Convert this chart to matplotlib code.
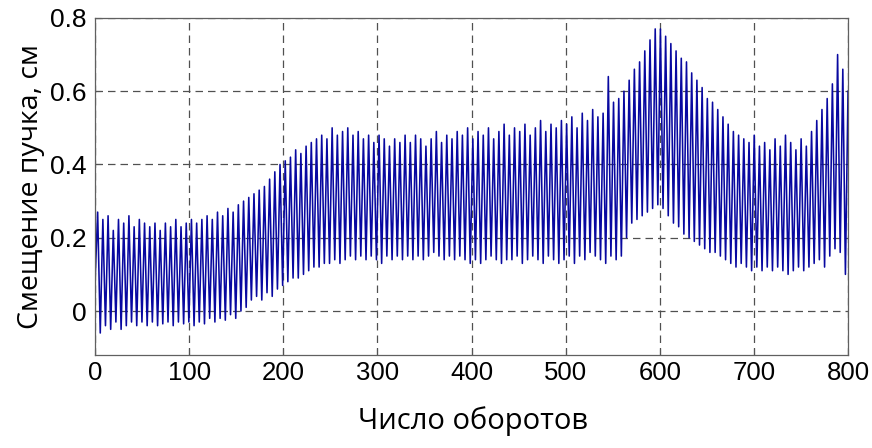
import numpy as np
import matplotlib.pyplot as plt
from matplotlib import font_manager

# peaks and troughs of each oscillation (cm)
peaks = [
    0.27, 0.25, 0.26, 0.22, 0.25, 0.24, 0.26, 0.23, 0.25, 0.24,
    0.23, 0.24, 0.22, 0.24, 0.23, 0.25, 0.23, 0.24, 0.25, 0.24,
    0.25, 0.26, 0.25, 0.27, 0.26, 0.28, 0.27, 0.29, 0.30, 0.31,
    0.32, 0.33, 0.34, 0.36, 0.38, 0.40, 0.41, 0.42, 0.44, 0.43,
    0.45, 0.46, 0.47, 0.48, 0.47, 0.50, 0.48, 0.49, 0.50, 0.48,
    0.49, 0.47, 0.48, 0.46, 0.48, 0.47, 0.45, 0.47, 0.46, 0.48,
    0.46, 0.48, 0.47, 0.45, 0.47, 0.49, 0.46, 0.48, 0.47, 0.49,
    0.48, 0.50, 0.47, 0.49, 0.48, 0.50, 0.47, 0.49, 0.51, 0.48,
    0.50, 0.49, 0.51, 0.48, 0.50, 0.52, 0.49, 0.51, 0.50, 0.52,
    0.51, 0.53, 0.50, 0.54, 0.52, 0.55, 0.53, 0.54, 0.64, 0.57,
    0.58, 0.60, 0.63, 0.66, 0.68, 0.71, 0.74, 0.77, 0.77, 0.75,
    0.73, 0.71, 0.69, 0.68, 0.65, 0.63, 0.61, 0.58, 0.57, 0.55,
    0.53, 0.51, 0.49, 0.48, 0.47, 0.46, 0.48, 0.45, 0.46, 0.44,
    0.47, 0.45, 0.48, 0.46, 0.44, 0.47, 0.45, 0.49, 0.52, 0.55,
    0.58, 0.62, 0.70, 0.66, 0.60,
]
troughs = [
    0.08, -0.06, -0.04, -0.05, -0.03, -0.05, -0.04, -0.03, -0.04, -0.03,
    -0.04, -0.03, -0.04, -0.035, -0.03, -0.04, -0.03, -0.035, -0.03, -0.04,
    -0.03, -0.035, -0.02, -0.03, -0.02, -0.025, -0.01, -0.02, 0.0, 0.01,
    0.03, 0.04, 0.03, 0.05, 0.04, 0.06, 0.07, 0.08, 0.09, 0.09,
    0.10, 0.11, 0.12, 0.12, 0.13, 0.13, 0.14, 0.13, 0.14, 0.15,
    0.14, 0.15, 0.14, 0.15, 0.14, 0.13, 0.15, 0.14, 0.15, 0.14,
    0.15, 0.14, 0.15, 0.14, 0.15, 0.16, 0.15, 0.14, 0.15, 0.14,
    0.15, 0.14, 0.13, 0.14, 0.13, 0.14, 0.15, 0.14, 0.13, 0.14,
    0.14, 0.15, 0.13, 0.14, 0.15, 0.14, 0.13, 0.15, 0.14, 0.13,
    0.14, 0.15, 0.13, 0.15, 0.14, 0.16, 0.15, 0.14, 0.13, 0.15,
    0.14, 0.15, 0.20, 0.24, 0.25, 0.26, 0.27, 0.28, 0.29, 0.28,
    0.26, 0.24, 0.23, 0.21, 0.20, 0.19, 0.18, 0.17, 0.16, 0.16,
    0.15, 0.14, 0.13, 0.12, 0.13, 0.12, 0.11, 0.12, 0.11, 0.12,
    0.11, 0.12, 0.11, 0.10, 0.11, 0.12, 0.11, 0.12, 0.13, 0.14,
    0.12, 0.15, 0.17, 0.16, 0.10,
]

xticks = [0, 100, 200, 300, 400, 500, 600, 700, 800]
yticks = [0, 0.2, 0.4, 0.6, 0.8]

# interleave: trough, peak, trough, peak ...
signal = np.empty(2 * len(peaks))
signal[0::2] = troughs
signal[1::2] = peaks
turns = np.linspace(0, 800, len(signal))

names = {f.name for f in font_manager.fontManager.ttflist}
narrow = 'Liberation Sans Narrow' if 'Liberation Sans Narrow' in names else 'Liberation Sans'
label_font = ['Open Sans', 'DejaVu Sans']

fig = plt.figure(figsize=(8.72, 4.48), dpi=100)
ax = fig.add_axes([0.109, 0.2076, 0.8635, 0.7524])

ax.plot(turns, signal, color='#0808a0', lw=1.15)

ax.set_xlim(0, 800)
ax.set_ylim(-0.12, 0.8)
ax.set_xticks(xticks)
ax.set_yticks(yticks)
ax.set_xticklabels([str(t) for t in xticks], fontfamily=narrow, fontsize=18.5)
ax.set_yticklabels(['0', '0.2', '0.4', '0.6', '0.8'], fontfamily='Liberation Sans', fontsize=19)
ax.tick_params(direction='in', length=4, color='#555555')
ax.tick_params(axis='x', pad=4)
ax.tick_params(axis='y', pad=6)

ax.grid(True, color='#505050', linestyle=(0, (6, 4)), lw=0.9)
for s in ax.spines.values():
    s.set_color('#606060')
    s.set_linewidth(0.9)

fig.text(0.5425, 0.06, 'Число оборотов', fontfamily=label_font, fontsize=21,
         ha='center', va='center')
ax.set_ylabel('Смещение пучка, см', fontfamily=label_font, fontsize=20.5, labelpad=4)

fig.savefig('out.png', dpi=100)
